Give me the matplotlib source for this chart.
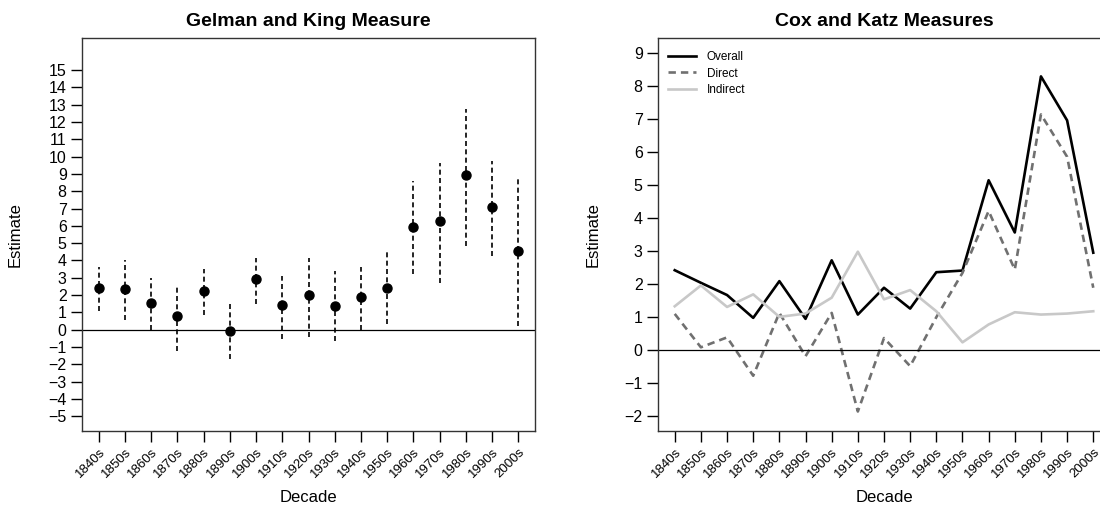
import numpy as np
import matplotlib
matplotlib.use("Agg")
import matplotlib.pyplot as plt

plt.rcParams["font.family"] = ["Liberation Sans", "DejaVu Sans"]

decades = ["1840s", "1850s", "1860s", "1870s", "1880s", "1890s", "1900s", "1910s",
           "1920s", "1930s", "1940s", "1950s", "1960s", "1970s", "1980s", "1990s", "2000s"]

# Gelman and King: point estimate with interval
gk_est = [2.43, 2.36, 1.53, 0.77, 2.26, -0.08, 2.93, 1.46, 2.03, 1.40, 1.88, 2.43,
          5.94, 6.28, 8.93, 7.09, 4.52]
gk_low = [1.07, 0.59, -0.02, -1.24, 0.87, -1.68, 1.50, -0.52, -0.42, -0.62, 0.00, 0.34,
          3.22, 2.68, 4.85, 4.27, 0.21]
gk_high = [3.64, 4.04, 3.00, 2.45, 3.50, 1.49, 4.14, 3.08, 4.14, 3.41, 3.64, 4.54,
           8.60, 9.64, 12.76, 9.73, 8.68]

# Cox and Katz measures
ck_overall = [2.42, 2.04, 1.67, 0.98, 2.09, 0.95, 2.72, 1.08, 1.89, 1.26, 2.36, 2.41,
              5.14, 3.56, 8.28, 6.95, 2.95]
ck_direct = [1.10, 0.09, 0.39, -0.77, 1.13, -0.18, 1.13, -1.85, 0.37, -0.48, 1.00, 2.34,
             4.21, 2.44, 7.13, 5.85, 1.89]
ck_indirect = [1.33, 1.96, 1.31, 1.69, 1.01, 1.11, 1.59, 2.98, 1.54, 1.82, 1.18, 0.24,
               0.78, 1.15, 1.08, 1.11, 1.18]

W, H = 1100, 508
fig = plt.figure(figsize=(W / 100, H / 100), dpi=100)


def frac(x0, y0, x1, y1):
    return [x0 / W, 1 - y1 / H, (x1 - x0) / W, (y1 - y0) / H]


def style_axes(ax, title, yticks, lab_x):
    x = np.arange(1, len(decades) + 1)
    ax.set_xlim(0.36, 17.64)
    ax.set_xticks(x)
    ax.set_xticklabels(decades, rotation=45, ha="right", rotation_mode="anchor",
                       fontsize=9.5)
    ax.set_yticks(yticks)
    ax.tick_params(axis="y", labelsize=11.5, length=8, width=1, pad=3)
    ax.tick_params(axis="x", length=8, width=1, pad=3)
    for s in ax.spines.values():
        s.set_linewidth(1)
        s.set_color("#333333")
    ax.axhline(0, color="black", linewidth=0.9)
    ax.set_title(title, fontsize=14, fontweight="bold", pad=9)
    ax.set_xlabel("Decade", fontsize=12)
    ax.set_ylabel("Estimate", fontsize=12)
    ax.xaxis.set_label_coords(0.5, -0.15)
    ax.yaxis.set_label_coords(lab_x, 0.5)


# left panel
ax1 = fig.add_axes(frac(82, 38, 535, 431))
x = np.arange(1, len(decades) + 1)
for xi, lo, hi in zip(x, gk_low, gk_high):
    ax1.plot([xi, xi], [lo, hi], color="black", linewidth=1.2, dashes=(3, 2))
ax1.plot(x, gk_est, "o", color="black", markersize=6.5, zorder=3)
ax1.set_ylim(-5.84, 16.84)
style_axes(ax1, "Gelman and King Measure", np.arange(-5, 16), -0.13)

# right panel
ax2 = fig.add_axes(frac(658, 38, 1110, 431))
ax2.plot(x, ck_overall, color="black", linewidth=1.9, label="Overall")
ax2.plot(x, ck_direct, color="#707070", linewidth=1.9, dashes=(2.8, 1.9), label="Direct")
ax2.plot(x, ck_indirect, color="#c8c8c8", linewidth=1.9, label="Indirect")
ax2.set_ylim(-2.44, 9.44)
style_axes(ax2, "Cox and Katz Measures", np.arange(-2, 10), -0.128)
ax2.legend(loc="upper left", bbox_to_anchor=(0.003, 0.987), frameon=False, fontsize=8.5,
           handlelength=2.4, labelspacing=0.35, handletextpad=0.9, borderaxespad=0.3)

fig.savefig("out.png", dpi=100)
